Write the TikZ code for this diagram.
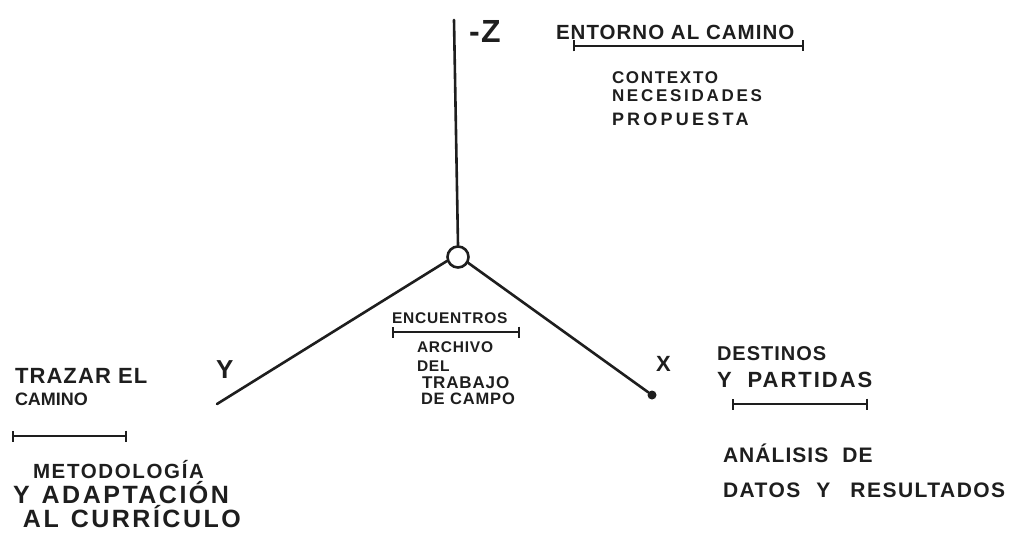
\documentclass[tikz,border=0pt]{standalone}
\usepackage{fontspec}
\setmainfont{Liberation Sans}[LetterSpace=5]
\usetikzlibrary{arrows.meta}
\definecolor{ink}{HTML}{1E1E1E}
\newcommand{\fsz}[1]{\fontsize{#1}{#1}\selectfont}
\newcommand{\lsp}[1]{\addfontfeatures{LetterSpace=#1}}
\begin{document}
\begin{tikzpicture}[x=1pt,y=-1pt,
  txt/.style={anchor=base west, inner sep=0pt, outer sep=0pt, text=ink, font=\bfseries},
  axisline/.style={draw=ink, line width=2.6pt, line cap=round},
  rulebar/.style={draw=ink, line width=2.4pt, {Bar[width=11pt,line width=2.4pt]}-{Bar[width=11pt,line width=2.4pt]}},
]
\useasboundingbox (0,0) rectangle (1020,551);

% axes
\node[circle, draw=ink, line width=2.6pt, minimum size=21pt, inner sep=0pt] (o) at (458,257) {};
\coordinate (ztop) at (454,20);
\coordinate (yend) at (217,404);
\node[circle, fill=ink, minimum size=9pt, inner sep=0pt] (xend) at (652,395) {};
\draw[axisline] (ztop) -- (o.north);
\draw[axisline] (o.200) -- (yend);
\draw[axisline] (o.330) -- (xend);

% axis letters
\node[txt] (zl) at (469,43) {\fsz{32}-Z};
\node[txt] (yl) at (216,378) {\fsz{26}Y};
\node[txt] (xl) at (656,371) {\fsz{22}X};

% Z: entorno
\node[txt] (ent) at (556,40) {\fsz{20.5}ENTORNO AL CAMINO};
\coordinate (ent1) at (573,46);
\coordinate (ent2) at (804,46);
\draw[rulebar] (ent1) -- (ent2);
\node[txt] (c1) at (612,84) {\fsz{17}\lsp{10}CONTEXTO};
\node[txt] (c2) at (612,101) {\fsz{17}\lsp{16}NECESIDADES};
\node[txt] (c3) at (612,125) {\fsz{18}\lsp{18}PROPUESTA};

% centre: encuentros
\node[txt] (enc) at (392,323) {\fsz{15.5}ENCUENTROS};
\coordinate (enc1) at (392,332);
\coordinate (enc2) at (520,332);
\draw[rulebar] (enc1) -- (enc2);
\node[txt] (a1) at (417,352) {\fsz{15.5}ARCHIVO};
\node[txt] (a2) at (417,371) {\fsz{15.5}DEL};
\node[txt] (a3) at (422,388) {\fsz{17}TRABAJO};
\node[txt] (a4) at (421,404) {\fsz{16.5}DE CAMPO};

% Y: trazar el camino
\node[txt] (tr1) at (15,383) {\fsz{22}TRAZAR EL};
\node[txt] (tr2) at (15,405) {\fsz{18}\lsp{0}CAMINO};
\coordinate (tr3) at (12,436);
\coordinate (tr4) at (127,436);
\draw[rulebar] (tr3) -- (tr4);
\node[txt] (m1) at (33,478) {\fsz{20.5}\lsp{8}METODOLOGÍA};
\node[txt] (m2) at (13,503) {\fsz{25}\lsp{10}Y\hspace{12pt}ADAPTACIÓN};
\node[txt] (m3) at (23,527) {\fsz{25}\lsp{10}AL\hspace{12pt}CURRÍCULO};

% X: destinos y partidas
\node[txt] (d1) at (717,360) {\fsz{20}DESTINOS};
\node[txt] (d2) at (717,387) {\fsz{22}\lsp{9}Y\hspace{16pt}PARTIDAS};
\coordinate (d3) at (732,404);
\coordinate (d4) at (868,404);
\draw[rulebar] (d3) -- (d4);
\node[txt] (r1) at (723,462) {\fsz{21}ANÁLISIS\hspace{14pt}DE};
\node[txt] (r2) at (723,497) {\fsz{21}\lsp{7}DATOS\hspace{16pt}Y\hspace{20pt}RESULTADOS};
\end{tikzpicture}
\end{document}
